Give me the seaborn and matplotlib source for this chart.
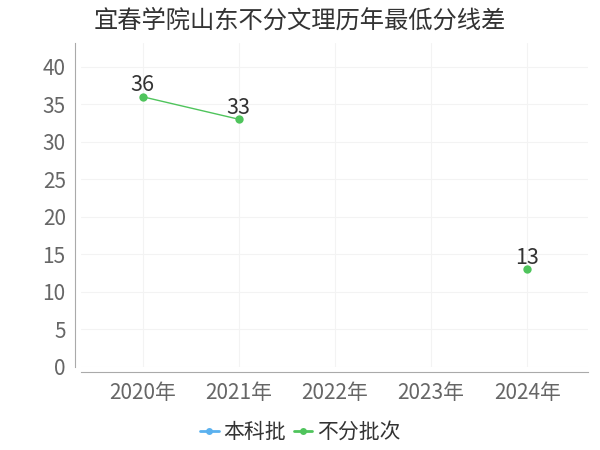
import seaborn as sns
import matplotlib
matplotlib.use("Agg")
import matplotlib.pyplot as plt
from matplotlib.lines import Line2D
import numpy as np
import pandas as pd

# values
years = ["2020年", "2021年", "2022年", "2023年", "2024年"]
benke = [np.nan, np.nan, np.nan, np.nan, np.nan]      # 本科批: no data
bufen = [36, 33, np.nan, np.nan, 13]                  # 不分批次
series_names = ["本科批", "不分批次"]
colors = ["#5ab1ef", "#4fc45c"]

sns.set_theme(style="white")
plt.rcParams["font.family"] = ["Noto Sans CJK SC", "DejaVu Sans"]

# long table, with a segment id so gaps stay gaps
rows = []
for name, vals in zip(series_names, [benke, bufen]):
    seg = 0
    for i, v in enumerate(vals):
        if np.isnan(v):
            seg += 1
            continue
        rows.append({"pos": i, "value": v, "series": name, "seg": seg})
df = pd.DataFrame(rows)

fig = plt.figure(figsize=(6, 4.5), dpi=100)
ax = fig.add_axes([0.135, 0.185, 0.845, 0.72])

sns.lineplot(data=df, x="pos", y="value", hue="series", units="seg",
             estimator=None, hue_order=series_names,
             palette=dict(zip(series_names, colors)),
             marker="o", markersize=6, markeredgewidth=0,
             linewidth=1, legend=False, ax=ax)

for _, r in df.iterrows():
    ax.text(r["pos"], r["value"] + 0.1, f"{int(r['value'])}", ha="center",
            va="bottom", fontsize=15.5, color="#333333")

ax.set_xlim(-0.64, 4.63)
ax.set_ylim(0, 43.2)
ax.set_xticks(range(len(years)))
ax.set_xticklabels(years)
ax.set_yticks(range(0, 45, 5))
ax.tick_params(axis="both", labelsize=15, length=4, width=0.8, pad=3)
ax.tick_params(axis="x", colors="#aaaaaa", labelcolor="#666666")
ax.tick_params(axis="y", colors="#aaaaaa", labelcolor="#666666")
ax.set_xlabel("")
ax.set_ylabel("")

ax.grid(True, color="#f3f3f3", linewidth=0.8)
for side in ["top", "right"]:
    ax.spines[side].set_visible(False)
for side in ["left", "bottom"]:
    ax.spines[side].set_color("#aaaaaa")
    ax.spines[side].set_linewidth(0.8)
    ax.spines[side].set_position(("outward", 4))

fig.text(0.5, 0.955, "宜春学院山东不分文理历年最低分线差", ha="center",
         va="center", fontsize=17.5, color="#333333")

handles = [Line2D([0], [0], color=c, marker="o", markersize=5,
                  markeredgewidth=0, linewidth=2) for c in colors]
fig.legend(handles, series_names, loc="center", bbox_to_anchor=(0.5, 0.04),
           ncol=2, frameon=False, fontsize=15, handlelength=0.9,
           handletextpad=0.2, columnspacing=0.4, labelcolor="#333333")

fig.savefig("out.png", dpi=100)
